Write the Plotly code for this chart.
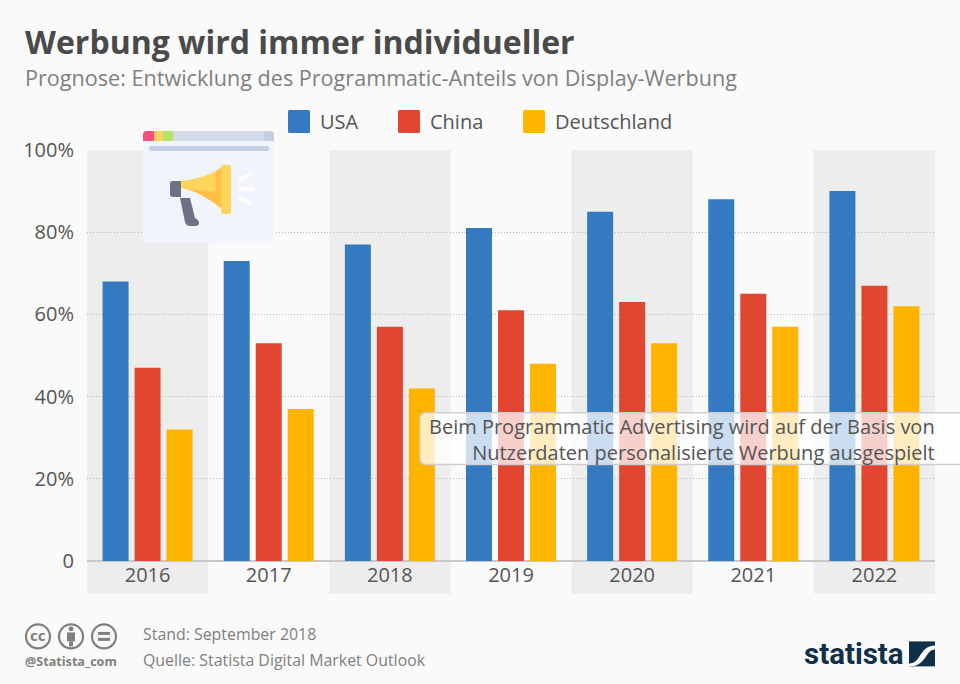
import plotly.graph_objects as go

years = ["2016", "2017", "2018", "2019", "2020", "2021", "2022"]
usa = [68, 73, 77, 81, 85, 88, 90]
china = [47, 53, 57, 61, 63, 65, 67]
deutschland = [32, 37, 42, 48, 53, 57, 62]
y_ticks = [0, 20, 40, 60, 80, 100]
y_labels = ["0", "20%", "40%", "60%", "80%", "100%"]
BLUE, RED, GOLD = "#337AC1", "#E14631", "#FFB400"
W, H = 960, 684
L, R, T, B = 87, 935, 150, 561.5
FONT = "Open Sans"
GREY = "#808080"

def px(x): return (x - L) / (R - L)
def py(y): return (B - y) / (B - T)

shapes, ann = [], []
def P(a, b): return f"{px(a):.5f},{py(b):.5f}"
def path(d, color, layer="above", line=None):
    shapes.append(dict(type="path", xref="paper", yref="paper", path=d, fillcolor=color, layer=layer,
                       line=dict(width=line[1], color=line[0]) if line else dict(width=0)))
def rect(x0, y0, x1, y1, color, layer="above", line=None):
    shapes.append(dict(type="rect", xref="paper", yref="paper", x0=px(x0), x1=px(x1), y0=py(y1), y1=py(y0),
                       fillcolor=color, layer=layer, line=dict(width=line[1], color=line[0]) if line else dict(width=0)))
def rrect(x0, y0, x1, y1, r, color, line=None, corners=(1, 1, 1, 1)):
    tl, tr, br, bl = [r*c for c in corners]
    d = (f"M{P(x0+tl,y0)} L{P(x1-tr,y0)} Q{P(x1,y0)} {P(x1,y0+tr)} L{P(x1,y1-br)} Q{P(x1,y1)} {P(x1-br,y1)} "
         f"L{P(x0+bl,y1)} Q{P(x0,y1)} {P(x0,y1-bl)} L{P(x0,y0+tl)} Q{P(x0,y0)} {P(x0+tl,y0)} Z")
    path(d, color, line=line)
def circle(cx, cy, r, fill, line=None):
    shapes.append(dict(type="circle", xref="paper", yref="paper", x0=px(cx-r), x1=px(cx+r), y0=py(cy+r), y1=py(cy-r),
                       fillcolor=fill, layer="above", line=dict(width=line[1], color=line[0]) if line else dict(width=0)))
def seg(x0, y0, x1, y1, color, w):
    shapes.append(dict(type="line", xref="paper", yref="paper", x0=px(x0), x1=px(x1), y0=py(y0), y1=py(y1),
                       layer="above", line=dict(color=color, width=w)))
def text(x, y, s, size, color, anchor="left", bold=False, family=FONT):
    ann.append(dict(xref="paper", yref="paper", x=px(x), y=py(y), text=f"<b>{s}</b>" if bold else s, showarrow=False,
                    xanchor=anchor, yanchor="middle", align=anchor, borderpad=0, borderwidth=0,
                    font=dict(size=size, color=color, family=family)))

# alternating column bands and label bands
cat = (R - L) / 7
for i in range(0, 7, 2):
    rect(L + i*cat, T, L + (i+1)*cat, 594, "#EDEDED", "below")

# legend
for x, c, name, tx in [(288, BLUE, "USA", 320), (398, RED, "China", 430), (523, GOLD, "Deutschland", 555)]:
    rrect(x, 110, x+22, 133, 1.5, c)
    text(tx, 121.5, name, 20, "#555555")

# megaphone card
rrect(143, 131, 274, 243, 5, "#F1F4FC")
rrect(143, 131, 274, 141, 4, "#D3DAEA", corners=(1, 1, 0, 0))
rrect(143, 131, 154, 141, 4, "#FF4A7D", corners=(1, 0, 0, 0))
rect(154, 131, 163, 141, "#FFD45C")
rect(163, 131, 173, 141, "#B5E061")
rrect(264, 131, 274, 141, 4, "#C5CFE3", corners=(0, 1, 0, 0))
rrect(149, 146, 269, 151, 2, "#C5CFE3")
# horn
path(f"M{P(180,181)} C{P(195,180)} {P(210,175)} {P(221,168)} L{P(221,208)} C{P(208,198)} {P(195,190)} {P(180,188)} Z", "#FFD45C")
path(f"M{P(180,188)} C{P(190,190)} {P(205,190)} {P(216,192)} L{P(216,171)} L{P(221,168)} L{P(221,208)} C{P(208,198)} {P(195,190)} {P(180,188)} Z", "#FFC044")
rrect(221, 165, 231, 214, 2, "#FFD45C")
rrect(170, 181, 181, 197, 2.5, "#6E7086", corners=(1, 0, 0, 1))
path(f"M{P(180,198)} L{P(190,198)} L{P(195,218)} Q{P(199,220)} {P(199,223)} Q{P(199,226)} {P(195,226)} L{P(190,226)} Q{P(186,226)} {P(185,222)} Z", "#6E7086")
for a, b, c, d in [(239, 180, 251, 174), (239, 189, 255, 189), (239, 198, 251, 204)]:
    seg(a, b, c, d, "#FFFFFF", 4)

# note box
rrect(420, 413, 964, 465, 6, "rgba(255,255,255,0.75)", line=("#CFCFCF", 1.5))
text(935, 439.5, "Beim Programmatic Advertising wird auf der Basis von<br>Nutzerdaten personalisierte Werbung ausgespielt",
     20, "#555555", "right")

# headings
text(25, 41, "Werbung wird immer individueller", 32, "#4A4A4A", bold=True)
text(25, 77, "Prognose: Entwicklung des Programmatic-Anteils von Display-Werbung", 21.6, GREY)

# footer
text(143, 635, "Stand: September 2018", 15.9, GREY)
text(143, 661, "Quelle: Statista Digital Market Outlook", 15.9, GREY)
text(25, 662, "@Statista_com", 12.6, GREY, bold=True)
for cx in (38, 71, 104):
    circle(cx, 637, 12, "rgba(0,0,0,0)", (GREY, 2.2))
text(38, 636, "<b>cc</b>", 15, GREY, "center")
circle(71, 629.5, 2.4, GREY)
rect(67, 633, 75, 642, GREY)
rect(69, 642, 73, 647, GREY)
rect(98, 632.5, 110, 635.5, GREY)
rect(98, 638.5, 110, 641.5, GREY)

# statista logo
text(804, 655, "statista", 29.5, "#0F2F4B", bold=True, family="Roboto")
rect(909, 642, 935, 667, "#0F2F4B")
path(f"M{P(909,664)} C{P(922,664)} {P(918,647)} {P(935,646)} L{P(935,650)} C{P(925,650)} {P(927,667)} {P(909,667)} Z", "#FFFFFF")

fig = go.Figure()
for name, vals, col in [("USA", usa, BLUE), ("China", china, RED), ("Deutschland", deutschland, GOLD)]:
    fig.add_bar(x=years, y=vals, name=name, marker=dict(color=col, line=dict(width=0)))

fig.update_layout(
    width=W, height=H, autosize=False, paper_bgcolor="#FAFAFA", plot_bgcolor="rgba(0,0,0,0)",
    margin=dict(l=L, r=W-R, t=T, b=H-B, pad=0), showlegend=False,
    barmode="group", bargap=0.2075, bargroupgap=0.1875,
    font=dict(family=FONT, color="#555555"), shapes=shapes, annotations=ann,
    xaxis=dict(type="category", tickfont=dict(size=20, color="#555555"), ticks="",
               showgrid=False, zeroline=False, showline=False),
    yaxis=dict(range=[0, 100], tickvals=y_ticks, ticktext=y_labels, tickfont=dict(size=20, color="#555555"),
               showgrid=True, griddash="1px,2px", gridcolor="#B8B8B8", gridwidth=1,
               zeroline=True, zerolinecolor="#C8C8C8", zerolinewidth=1.5, showline=False,
               ticks="outside", ticklen=8, tickcolor="rgba(0,0,0,0)"),
)
fig.write_html("out.html", config={"displayModeBar": False},
               post_script="document.body.style.margin='0';document.body.style.background='#FAFAFA';document.documentElement.style.overflow='hidden';")
